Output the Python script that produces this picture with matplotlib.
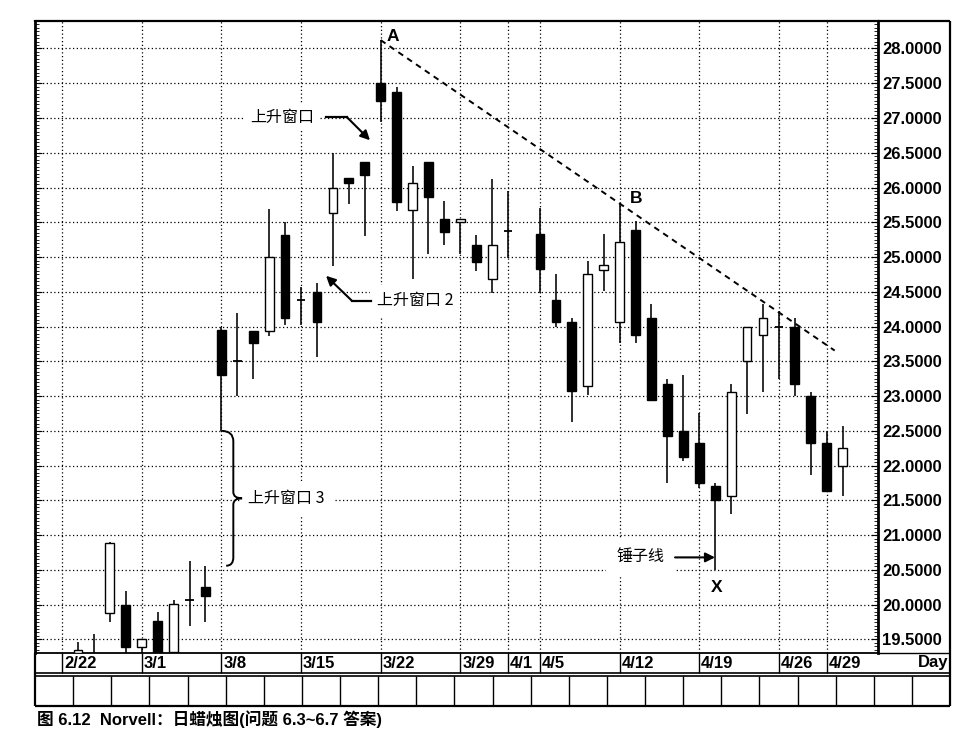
import numpy as np
import matplotlib
matplotlib.use('Agg')
import matplotlib.pyplot as plt
from matplotlib.patches import Rectangle, PathPatch
from matplotlib.path import Path
from matplotlib.ticker import MultipleLocator, FormatStrFormatter

# ---------------- data ----------------
YEAR = '1999'
START = '1999-02-22'

dates = ['2/23', '2/24', '2/25', '2/26', '3/1', '3/2', '3/3', '3/4', '3/5',
         '3/8', '3/9', '3/10', '3/11', '3/12', '3/15', '3/16', '3/17', '3/18', '3/19',
         '3/22', '3/23', '3/24', '3/25', '3/26', '3/29', '3/30', '3/31', '4/1',
         '4/5', '4/6', '4/7', '4/8', '4/9', '4/12', '4/13', '4/14', '4/15', '4/16',
         '4/19', '4/20', '4/21', '4/22', '4/23', '4/26', '4/27', '4/28', '4/29', '4/30']

opens = [19.30, 19.25, 19.88, 20.00, 19.39, 19.76, 19.32, 20.07, 20.25,
         23.95, 23.50, 23.94, 23.93, 25.32, 24.38, 24.50, 25.64, 26.13, 26.37,
         27.50, 27.38, 25.68, 26.37, 25.55, 25.50, 25.18, 24.68, 25.37,
         25.33, 24.38, 24.07, 23.14, 24.82, 24.06, 25.39, 24.13, 23.18, 22.50,
         22.32, 21.70, 21.56, 23.51, 23.88, 24.00, 24.00, 23.00, 22.32, 22.00]

highs = [19.46, 19.58, 20.90, 20.20, 19.51, 19.89, 20.07, 20.63, 20.56,
         24.00, 24.20, 23.94, 25.69, 25.51, 24.57, 24.63, 26.50, 26.13, 26.37,
         28.12, 27.44, 26.31, 26.37, 25.81, 25.55, 25.31, 26.12, 25.95,
         25.71, 24.76, 24.13, 24.95, 25.33, 25.77, 25.52, 24.32, 23.25, 23.31,
         22.75, 21.75, 23.18, 24.00, 24.32, 24.21, 24.12, 23.06, 22.50, 22.57]

lows = [19.20, 19.10, 19.75, 19.25, 19.25, 19.20, 19.32, 19.70, 19.75,
        22.50, 23.00, 23.25, 23.87, 24.02, 24.02, 23.56, 24.87, 25.76, 25.30,
        26.94, 25.66, 24.68, 25.05, 25.18, 25.04, 24.80, 24.49, 24.99,
        24.48, 24.00, 22.63, 23.02, 24.51, 23.76, 23.76, 22.94, 21.75, 22.06,
        21.68, 20.50, 21.31, 22.74, 23.06, 23.25, 23.00, 21.87, 21.63, 21.56]

closes = [19.35, 19.20, 20.89, 19.39, 19.51, 19.28, 20.01, 20.07, 20.12,
          23.30, 23.50, 23.76, 25.00, 24.12, 24.38, 24.07, 26.00, 26.07, 26.18,
          27.24, 25.79, 26.06, 25.87, 25.36, 25.55, 24.93, 25.18, 25.37,
          24.83, 24.07, 23.07, 24.76, 24.89, 25.21, 23.88, 22.94, 22.43, 22.12,
          21.75, 21.50, 23.06, 24.00, 24.12, 24.00, 23.18, 22.32, 21.63, 22.26]

tick_dates = ['2/22', '3/1', '3/8', '3/15', '3/22', '3/29', '4/1', '4/5',
              '4/12', '4/19', '4/26', '4/29']

caption = '图 6.12  Norvell：日蜡烛图(问题 6.3~6.7 答案)'


def slot(d):
    m, dd = d.split('/')
    return int(np.busday_count(START, f'{YEAR}-{int(m):02d}-{int(dd):02d}'))


# ---------------- figure layout ----------------
W, H = 980, 756
fig = plt.figure(figsize=(W / 100, H / 100), dpi=100)
fig.patch.set_facecolor('white')


def fx(px):
    return px / W


def fy(py):
    return 1 - py / H


AX_L, AX_R, AX_T, AX_B = 35, 878, 21, 653
ax = fig.add_axes([fx(AX_L), fy(AX_B), fx(AX_R) - fx(AX_L), fy(AX_T) - fy(AX_B)])
ax.set_xlim(-1.7, 51.22)
ax.set_ylim(19.305, 28.395)


def ya(py):
    # pixel row -> axes fraction
    return (AX_B - py) / (AX_B - AX_T)


CJK = ['Noto Sans CJK SC', 'DejaVu Sans']
LAT = ['Liberation Sans', 'DejaVu Sans']

# ---------------- candles ----------------
bw = 0.55
for d, o, h, l, c in zip(dates, opens, highs, lows, closes):
    x = slot(d)
    ax.vlines(x, l, h, color='black', lw=1.15, zorder=3)
    if c > o:
        ax.add_patch(Rectangle((x - bw / 2, o), bw, c - o, facecolor='white',
                               edgecolor='black', lw=1.0, zorder=4))
    elif c < o:
        ax.add_patch(Rectangle((x - bw / 2, c), bw, o - c, facecolor='black',
                               edgecolor='black', lw=1.0, zorder=4))
    else:
        ax.hlines(o, x - bw / 2, x + bw / 2, color='black', lw=1.3, zorder=4)

# ---------------- axes styling ----------------
for side, lw in [('left', 2.0), ('right', 2.0), ('top', 1.6), ('bottom', 1.3)]:
    ax.spines[side].set_linewidth(lw)
    ax.spines[side].set_color('black')

ax.yaxis.set_major_locator(MultipleLocator(0.5))
ax.yaxis.set_minor_locator(MultipleLocator(0.05))
ax.yaxis.set_major_formatter(FormatStrFormatter('%.4f'))
ax.tick_params(axis='y', which='both', left=True, right=True, labelleft=False,
               labelright=True, direction='in', color='black')
ax.tick_params(axis='y', which='major', length=5, width=0.8, pad=3, labelsize=12)
ax.tick_params(axis='y', which='minor', length=3, width=0.6)
for lab in ax.get_yticklabels():
    lab.set_fontweight('bold')
    lab.set_family(LAT)

xt = [slot(d) for d in tick_dates]
ax.set_xticks(xt)
ax.tick_params(axis='x', which='major', direction='out', length=14.4, width=1.0,
               labelbottom=False, color='black')
for d in tick_dates:
    ax.text(slot(d) + 0.12, ya(663), d, transform=ax.get_xaxis_transform(),
            ha='left', va='center', fontsize=12, fontweight='bold', family=LAT,
            clip_on=False)

ax.grid(True, which='major', axis='both', color='black',
        linestyle=(0, (1, 2)), linewidth=0.9)
ax.set_axisbelow(True)

# ---------------- trend line A-B ----------------
iA = dates.index('3/22')
iB = dates.index('4/12')
sA, pA = slot('3/22'), highs[iA]
sB, pB = slot('4/12'), highs[iB]
slope = (pB - pA) / (sB - sA)
x_end = 48.5
ax.plot([sA, x_end], [pA, pA + slope * (x_end - sA)], color='black',
        linestyle=(0, (3, 2.5)), lw=1.4, zorder=5)

# ---------------- annotations ----------------
ax.text(20.78, 28.17, 'A', fontsize=12.5, fontweight='bold', family=LAT,
        ha='center', va='center', zorder=6)
ax.text(36.03, 25.84, 'B', fontsize=12.5, fontweight='bold', family=LAT,
        ha='center', va='center', zorder=6)
ax.text(41.12, 20.24, 'X', fontsize=12.5, fontweight='bold', family=LAT,
        ha='center', va='center', zorder=6)

arrow_kw = dict(arrowstyle='-|>', lw=1.5, color='black', mutation_scale=14,
                shrinkA=0, shrinkB=0)


def white_box(pad):
    return dict(facecolor='white', edgecolor='none', pad=pad)


# 上升窗口
ax.text(11.8, 27.01, '上升窗口', fontsize=11.5, family=CJK, ha='left',
        va='center', zorder=2, bbox=white_box(4))
ax.plot([16.57, 17.89], [27.01, 27.01], color='black', lw=1.6, zorder=5)
ax.annotate('', xy=(19.33, 26.68), xytext=(17.89, 27.01), arrowprops=arrow_kw,
            zorder=5)

# 上升窗口 2
ax.text(19.77, 24.38, '上升窗口 2', fontsize=11.5, family=CJK, ha='left',
        va='center', zorder=2, bbox=white_box(5))
ax.plot([19.4, 18.2], [24.37, 24.37], color='black', lw=1.6, zorder=5)
ax.annotate('', xy=(16.57, 24.73), xytext=(18.2, 24.37), arrowprops=arrow_kw,
            zorder=5)

# 上升窗口 3 with brace
i38 = dates.index('3/8')
i35 = dates.index('3/5')
top_p = lows[i38]
bot_p = highs[i35]
mid_p = (top_p + bot_p) / 2
xs, xv, xt_ = slot('3/8'), 10.75, 11.3
verts = [(xs, top_p), (xv, top_p), (xv, top_p - 0.15),
         (xv, mid_p + 0.09),
         (xv, mid_p), (xt_, mid_p),
         (xv, mid_p), (xv, mid_p - 0.09),
         (xv, bot_p + 0.12),
         (xv, bot_p), (xs + 0.3, bot_p)]
codes = [Path.MOVETO, Path.CURVE3, Path.CURVE3, Path.LINETO,
         Path.CURVE3, Path.CURVE3, Path.CURVE3, Path.CURVE3,
         Path.LINETO, Path.CURVE3, Path.CURVE3]
ax.add_patch(PathPatch(Path(verts, codes), facecolor='none', edgecolor='black',
                       lw=1.4, zorder=5))
ax.text(11.68, mid_p, '上升窗口 3', fontsize=11.5, family=CJK, ha='left',
        va='center', zorder=2, bbox=white_box(6))

# 锤子线
ax.text(37.85, 20.68, '锤子线', fontsize=11.5, family=CJK, ha='right',
        va='center', zorder=2, bbox=white_box(8))
ax.annotate('', xy=(40.99, 20.68), xytext=(38.48, 20.68), arrowprops=arrow_kw,
            zorder=5)

# ---------------- frames below / right of the plot ----------------
ov = fig.add_axes([0, 0, 1, 1], zorder=10)
ov.set_xlim(0, W)
ov.set_ylim(H, 0)
ov.axis('off')
ov.patch.set_alpha(0)

R = 950
line_kw = dict(color='black', solid_capstyle='butt')
ov.plot([AX_R, R], [AX_T, AX_T], lw=1.6, **line_kw)
ov.plot([R, R], [AX_T, 706], lw=1.6, **line_kw)
ov.plot([AX_L, AX_L], [AX_B, 706], lw=1.6, **line_kw)
ov.plot([AX_L, R], [673, 673], lw=1.2, **line_kw)
ov.plot([AX_L, R], [676, 676], lw=1.2, **line_kw)
ov.plot([AX_L, R], [706, 706], lw=1.6, **line_kw)
ov.plot([AX_R, R], [AX_B, AX_B], lw=1.0, **line_kw)
n_box = 24
for k in range(1, n_box):
    xk = AX_L + k * (R - AX_L) / n_box
    ov.plot([xk, xk], [676, 706], lw=1.0, **line_kw)

ov.text(948, 663, 'Day', ha='right', va='center', fontsize=12,
        fontweight='bold', family=LAT)

fig.text(fx(37), fy(719), caption, ha='left', va='center', fontsize=12,
         fontweight='bold', family=['Liberation Sans', 'Noto Sans CJK SC'])

fig.savefig('out.png', dpi=100, facecolor='white')
